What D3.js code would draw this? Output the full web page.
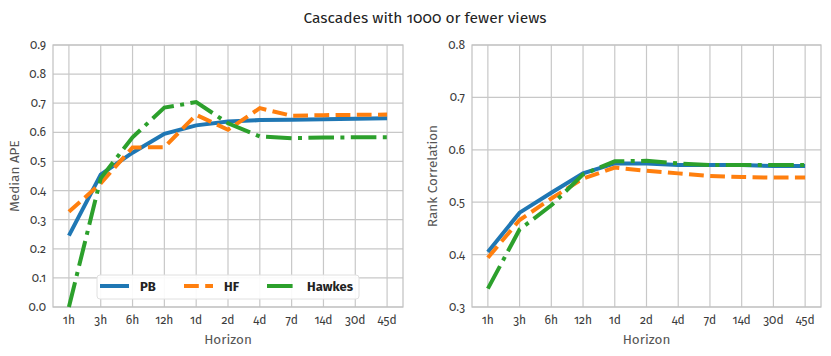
<!DOCTYPE html>
<html>
<head>
<meta charset="utf-8">
<script src="https://cdn.jsdelivr.net/npm/d3@7"></script>
<style>
  body { margin: 0; background: #fff; }
  text { font-family: "Fira Sans", "Open Sans", "Noto Sans", sans-serif; font-variant-numeric: oldstyle-nums; }
</style>
</head>
<body>
<script>
const horizons = ["1h", "3h", "6h", "12h", "1d", "2d", "4d", "7d", "14d", "30d", "45d"];

// Median APE
const apePB = [0.245, 0.455, 0.53, 0.595, 0.624, 0.637, 0.642, 0.643, 0.645, 0.647, 0.648];
const apeHF = [0.327, 0.425, 0.548, 0.549, 0.66, 0.609, 0.683, 0.657, 0.659, 0.66, 0.661];
const apeHawkes = [0.0, 0.442, 0.583, 0.685, 0.704, 0.631, 0.586, 0.58, 0.582, 0.583, 0.583];

// Rank correlation
const rankPB = [0.405, 0.48, 0.518, 0.555, 0.574, 0.574, 0.571, 0.571, 0.571, 0.569, 0.569];
const rankHF = [0.394, 0.466, 0.507, 0.545, 0.566, 0.56, 0.555, 0.55, 0.548, 0.547, 0.547];
const rankHawkes = [0.335, 0.448, 0.494, 0.553, 0.578, 0.579, 0.574, 0.571, 0.571, 0.571, 0.571];

const apeTicks = [0, 0.1, 0.2, 0.3, 0.4, 0.5, 0.6, 0.7, 0.8, 0.9];
const rankTicks = [0.3, 0.4, 0.5, 0.6, 0.7, 0.8];

const seriesNames = ["PB", "HF", "Hawkes"];
const colors = ["#1f77b4", "#ff7f0e", "#2ca02c"];
const dashes = [null, "14.8,6.4", "25.6,6.4,4,6.4"];

const svg = d3.select("body").append("svg")
  .attr("width", 831)
  .attr("height", 356);

svg.append("text")
  .attr("x", 425)
  .attr("y", 23)
  .attr("text-anchor", "middle")
  .attr("font-size", 15.5)
  .attr("fill", "#222")
  .text("Cascades with 1000 or fewer views");

function panel(x0, x1, yDomain, ticks, ylabel, series, labelX, legend) {
  const top = 45, bottom = 307;
  const x = d3.scalePoint().domain(horizons).range([x0, x1]).padding(0.5);
  const y = d3.scaleLinear().domain(yDomain).range([bottom, top]);
  const g = svg.append("g");

  // grid
  g.selectAll(".vg").data(horizons).enter().append("line")
    .attr("x1", d => x(d)).attr("x2", d => x(d))
    .attr("y1", top).attr("y2", bottom)
    .attr("stroke", "#c8c8c8").attr("stroke-width", 1.2);
  g.selectAll(".hg").data(ticks).enter().append("line")
    .attr("x1", x0).attr("x2", x1)
    .attr("y1", d => y(d)).attr("y2", d => y(d))
    .attr("stroke", "#c8c8c8").attr("stroke-width", 1.2);

  g.append("rect")
    .attr("x", x0).attr("y", top)
    .attr("width", x1 - x0).attr("height", bottom - top)
    .attr("fill", "none").attr("stroke", "#c0c0c0").attr("stroke-width", 1.2);

  // tick labels
  g.selectAll(".yt").data(ticks).enter().append("text")
    .attr("x", x0 - 7).attr("y", d => y(d) + 4)
    .attr("text-anchor", "end")
    .attr("font-size", 12).attr("fill", "#3a3a3a")
    .text(d => d3.format(".1f")(d));
  g.selectAll(".xt").data(horizons).enter().append("text")
    .attr("x", d => x(d)).attr("y", bottom + 17)
    .attr("text-anchor", "middle")
    .attr("font-size", 12).attr("fill", "#3a3a3a")
    .text(d => d);

  g.append("text")
    .attr("x", (x0 + x1) / 2).attr("y", bottom + 37)
    .attr("text-anchor", "middle")
    .attr("font-size", 13.5).attr("fill", "#555")
    .text("Horizon");
  g.append("text")
    .attr("transform", `translate(${labelX},${(top + bottom) / 2}) rotate(-90)`)
    .attr("text-anchor", "middle")
    .attr("font-size", 13.5).attr("fill", "#555")
    .text(ylabel);

  const line = d3.line().x((d, i) => x(horizons[i])).y(d => y(d));
  series.forEach((s, i) => {
    g.append("path")
      .datum(s)
      .attr("d", line)
      .attr("fill", "none")
      .attr("stroke", colors[i])
      .attr("stroke-width", 4)
      .attr("stroke-dasharray", dashes[i]);
  });

  if (legend) {
    const lg = g.append("g");
    lg.append("rect")
      .attr("x", 97).attr("y", 275).attr("width", 262).attr("height", 24)
      .attr("rx", 3)
      .attr("fill", "#fff").attr("fill-opacity", 0.9)
      .attr("stroke", "#e0e0e0");
    const lx = [100, 184, 267];
    seriesNames.forEach((n, i) => {
      lg.append("line")
        .attr("x1", lx[i]).attr("x2", lx[i] + 29)
        .attr("y1", 286).attr("y2", 286)
        .attr("stroke", colors[i]).attr("stroke-width", 4)
        .attr("stroke-dasharray", dashes[i]);
      lg.append("text")
        .attr("x", lx[i] + 40).attr("y", 291)
        .attr("font-size", 13).attr("font-weight", "bold")
        .attr("fill", "#222")
        .text(n);
    });
  }
}

panel(53, 403, [0, 0.9], apeTicks, "Median APE", [apePB, apeHF, apeHawkes], 19, true);
panel(472, 821, [0.3, 0.8], rankTicks, "Rank Correlation", [rankPB, rankHF, rankHawkes], 437, false);
</script>
</body>
</html>
